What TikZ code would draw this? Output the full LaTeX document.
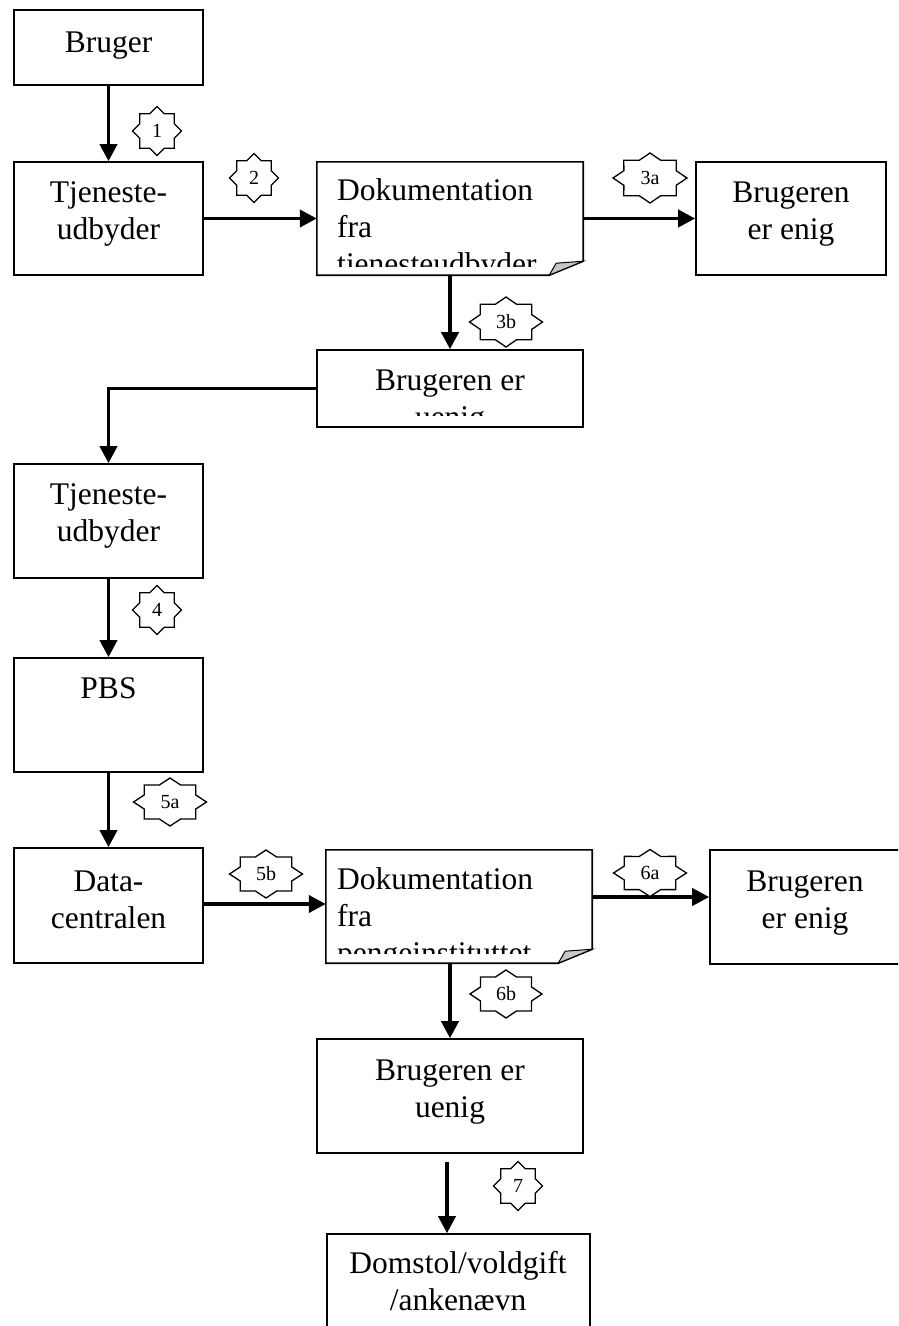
\documentclass[tikz,border=0pt]{standalone}
\usepackage{fontspec}
\setmainfont{Liberation Serif}
\usetikzlibrary{arrows.meta,calc}
\tikzset{
  box/.style={draw=black,line width=1.6pt,rectangle,inner sep=0pt},
  frame/.style={rectangle,inner sep=0pt},
  boxline/.style={draw=black,line width=1.6pt,line join=miter},
  txt/.style={anchor=base,align=center,inner sep=0pt,font=\fontsize{31.5}{37}\selectfont},
  txtl/.style={anchor=base west,align=left,inner sep=0pt,font=\fontsize{31.5}{37}\selectfont},
  arr/.style={line width=3.8pt,-{Triangle[width=17pt,length=17pt]}},
  sealline/.style={draw=black,fill=white,line width=1.3pt,line join=miter},
  seallbl/.style={inner sep=0pt,font=\fontsize{20}{22}\selectfont},
  foldfill/.style={fill=black!22,draw=black,line width=1pt},
}
\newcommand\sealstar[6]{%
  \draw[sealline,shift={(#2,#3)},xscale=#4,yscale=#5]
    (0:1) -- (22.5:0.765) -- (45:1) -- (67.5:0.765) --
    (90:1) -- (112.5:0.765) -- (135:1) -- (157.5:0.765) --
    (180:1) -- (202.5:0.765) -- (225:1) -- (247.5:0.765) --
    (270:1) -- (292.5:0.765) -- (315:1) -- (337.5:0.765) -- cycle;
  \node[seallbl] (#1) at (#2,#3) {#6};
}
\begin{document}
\begin{tikzpicture}[x=1pt,y=-1pt]
\useasboundingbox (0,0) rectangle (898,1326);
\clip (0,0) rectangle (898,1326);

% boxes
\node[box,minimum width=189pt,minimum height=75pt] (B1) at (108.5,47.5) {};
\node[box,minimum width=189pt,minimum height=113pt] (T1) at (108.5,218.5) {};
\node[frame,minimum width=266pt,minimum height=113pt] (D1) at (450,218.5) {};
\node[box,minimum width=190pt,minimum height=113pt] (E1) at (791,218.5) {};
\node[box,minimum width=266pt,minimum height=77pt] (U1) at (450,388.5) {};
\node[box,minimum width=189pt,minimum height=114pt] (T2) at (108.5,521) {};
\node[box,minimum width=189pt,minimum height=114pt] (P) at (108.5,715) {};
\node[box,minimum width=189pt,minimum height=115pt] (DC) at (108.5,905.5) {};
\node[frame,minimum width=266pt,minimum height=113pt] (D2) at (459,906.5) {};
\node[box,minimum width=195pt,minimum height=114pt] (E2) at (807.5,907) {};
\node[box,minimum width=266pt,minimum height=114pt] (U2) at (450,1096) {};
\node[box,minimum width=263pt,minimum height=106pt] (DS) at (458.5,1287) {};

% document shapes
\draw[boxline] (D1.north west) -- (D1.north east) -- ([yshift=14pt]D1.south east)
  -- ([xshift=-34pt]D1.south east) -- (D1.south west) -- cycle;
\draw[foldfill] ([yshift=14pt]D1.south east) -- ([xshift=-34pt]D1.south east)
  -- ([xshift=-27pt,yshift=12pt]D1.south east) -- cycle;
\draw[boxline] (D2.north west) -- (D2.north east) -- ([yshift=14pt]D2.south east)
  -- ([xshift=-34pt]D2.south east) -- (D2.south west) -- cycle;
\draw[foldfill] ([yshift=14pt]D2.south east) -- ([xshift=-34pt]D2.south east)
  -- ([xshift=-27pt,yshift=12pt]D2.south east) -- cycle;

% texts (anchor base = baseline of the last line)
\node[txt] (B1t) at (108.5,52) {Bruger};
\node[txt] (T1t) at (108.5,239) {Tjeneste-\\udbyder};
\begin{scope}
  \clip (317,162) rectangle (583,266);
  \node[txtl] (D1t) at (337,274) {Dokumentation\\fra\\tjenesteudbyder};
\end{scope}
\node[txt] (E1t) at (791,239) {Brugeren\\er enig};
\begin{scope}
  \clip (317,350) rectangle (583,415);
  \node[txt] (U1t) at (450,427) {Brugeren er\\uenig};
\end{scope}
\node[txt] (T2t) at (108.5,541) {Tjeneste-\\udbyder};
\node[txt] (Pt) at (108.5,698) {PBS};
\node[txt] (DCt) at (108.5,928) {Data-\\centralen};
\begin{scope}
  \clip (326,850) rectangle (592,953);
  \node[txtl] (D2t) at (337,963) {Dokumentation\\fra\\pengeinstituttet};
\end{scope}
\node[txt] (E2t) at (805,928) {Brugeren\\er enig};
\node[txt] (U2t) at (450,1117) {Brugeren er\\uenig};
\node[txt] (DSt) at (458,1310) {Domstol/voldgift\\/ankenævn};

% connectors
\draw[arr] (B1.south) -- (T1.north);
\draw[arr] (T1.east) -- (D1.west);
\draw[arr] (D1.east) -- (E1.west);
\draw[arr] (D1.south) -- (U1.north);
\draw[arr] (U1.west) -| (T2.north);
\draw[arr] (T2.south) -- (P.north);
\draw[arr] (P.south) -- (DC.north);
\draw[arr] ([yshift=1.5pt]DC.east) -- ([yshift=1.5pt]DC.east -| D2.west);
\draw[arr] ([yshift=9.5pt]D2.east) -- ([yshift=9.5pt]D2.east -| E2.west);
\draw[arr] (D2.south -| U2.north) -- (U2.north);
\coordinate (a7) at ([xshift=-3pt,yshift=-8pt]U2.south);
\draw[arr] (a7) -- (a7 |- DS.north);

% seals
\sealstar{s1}{157}{131}{24.5}{24.5}{1}
\sealstar{s2}{254}{178}{24.5}{24.5}{2}
\sealstar{s3a}{650}{178}{37}{25}{3a}
\sealstar{s3b}{506}{322}{36.5}{25}{3b}
\sealstar{s4}{157}{610}{24.5}{24.5}{4}
\sealstar{s5a}{170}{802}{36.5}{24}{5a}
\sealstar{s5b}{266}{874}{36.5}{24}{5b}
\sealstar{s6a}{650}{873}{36.5}{23.5}{6a}
\sealstar{s6b}{506}{994}{36}{24}{6b}
\sealstar{s7}{518}{1186}{24.5}{24.5}{7}
\end{tikzpicture}
\end{document}
